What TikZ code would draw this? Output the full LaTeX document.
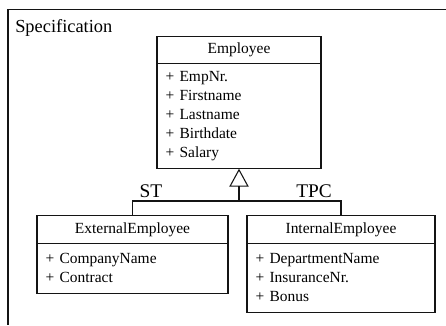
\documentclass[tikz,border=0pt]{standalone}
\usepackage{fontspec}
\setmainfont{Liberation Serif}
\usetikzlibrary{arrows.meta,positioning}
\definecolor{ink}{RGB}{20,20,20}
\tikzset{
  >={Triangle[open,length=13.5pt,width=14.5pt]},
  frame/.style={draw=ink,line width=1pt},
  head/.style={draw=ink,line width=0.8pt,outer sep=0pt,inner sep=0pt,
    minimum width=#1,minimum height=20.5pt,font=\fontsize{11.6}{14.2}\selectfont},
  attrs/.style={draw=ink,line width=0.8pt,outer sep=0pt,inner xsep=6.5pt,inner ysep=0pt,
    text width=#1,align=left,font=\fontsize{11.6}{14.2}\selectfont},
  tag/.style={font=\fontsize{14.5}{16}\selectfont,inner sep=0pt},
  link/.style={draw=ink,line width=0.8pt},
}
\begin{document}
\begin{tikzpicture}[x=0.75pt,y=-0.75pt]
  \useasboundingbox (0,0) rectangle (446,325);
  \draw[frame] (446,9.5) -- (8,9.5) -- (8,325);
  \node[tag,font=\fontsize{13.8}{16}\selectfont,anchor=base west] (spec) at (15,32) {Specification};
  % superclass
  \node[head=123pt] (emp) at (239,50) {Employee};
  \node[attrs=110pt,minimum height=78.75pt,below=0pt of emp] (empattr)
    {+ EmpNr.\\+ Firstname\\+ Lastname\\+ Birthdate\\+ Salary};
  % subclasses
  \node[head=143.25pt] (ext) at (132.5,229.5) {ExternalEmployee};
  \node[attrs=130.25pt,minimum height=37.5pt,below=0pt of ext] (extattr)
    {+ CompanyName\\+ Contract};
  \node[head=141pt] (int) at (341,229.5) {InternalEmployee};
  \node[attrs=128pt,minimum height=51.75pt,below=0pt of int] (intattr)
    {+ DepartmentName\\+ InsuranceNr.\\+ Bonus};
  \coordinate (fork) at (239,201);
  \draw[link] (ext.north) |- (fork) -| (int.north);
  \draw[link,->] (fork) -- (empattr.south);
  \node[tag] (st) at (151,191) {ST};
  \node[tag] (tpc) at (314,191) {TPC};
\end{tikzpicture}
\end{document}
